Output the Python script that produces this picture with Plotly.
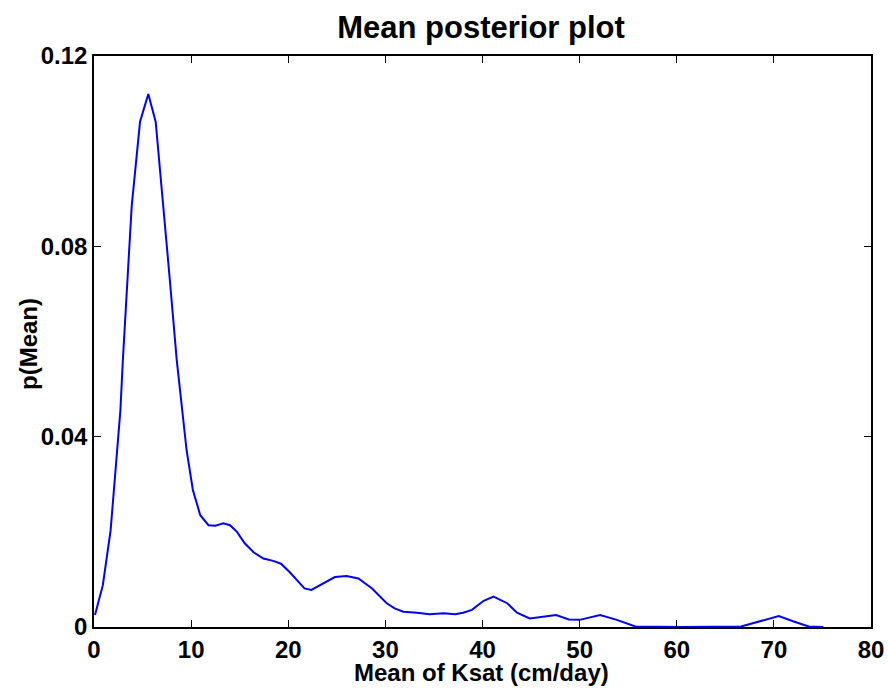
import plotly.graph_objects as go

x_vals = [0.1, 0.91, 1.71, 2.22, 2.72, 2.97, 3.88, 4.74, 5.59, 6.35, 7.06, 7.81, 8.52, 8.87, 9.53,
          10.18, 10.94, 11.79, 12.5, 13.31, 14.01, 14.72, 15.52, 16.43, 17.44, 18.45, 19.25, 20.16,
          21.67, 22.38, 23.59, 24.8, 26.01, 27.22, 28.63, 30.14, 30.95, 31.85, 33.26, 34.57, 35.99,
          37.2, 38.0, 38.91, 40.12, 41.13, 42.54, 43.55, 44.86, 46.57, 47.58, 48.89, 50.0, 52.11,
          53.83, 55.74, 60.5, 66.63, 68.54, 70.5, 71.97, 73.58, 75.1]
y_vals = [0.0025, 0.0088, 0.0203, 0.034, 0.0456, 0.0561, 0.0884, 0.1062, 0.112, 0.1062, 0.0904,
          0.0729, 0.0561, 0.0492, 0.0372, 0.0288, 0.0235, 0.0214, 0.0213, 0.0218, 0.0214, 0.0200,
          0.0176, 0.0157, 0.0144, 0.0139, 0.0133, 0.0115, 0.0081, 0.0078, 0.0092, 0.0105, 0.0107,
          0.0102, 0.0081, 0.0050, 0.0039, 0.0032, 0.0030, 0.0027, 0.0029, 0.0027, 0.0030, 0.0036,
          0.0055, 0.0064, 0.0050, 0.0030, 0.0018, 0.0023, 0.0025, 0.0016, 0.0015, 0.0025, 0.0015,
          0.0001, 0.0, 0.0001, 0.0012, 0.0023, 0.0012, 0.0001, 0.0]

x_ticks = [0, 10, 20, 30, 40, 50, 60, 70, 80]
y_ticks = [0, 0.04, 0.08, 0.12]
y_tick_text = ["0", "0.04", "0.08", "0.12"]

title_text = "Mean posterior plot"
x_label = "Mean of Ksat (cm/day)"
y_label = "p(Mean)"

font_family = "Liberation Sans, Arial, Helvetica, sans-serif"
W, H = 888, 691
L, R, T, B = 94, 17, 56, 64
pw, ph = W - L - R, H - T - B

fig = go.Figure()
fig.add_trace(go.Scatter(x=x_vals, y=y_vals, mode="lines",
                         line=dict(color="#0000FF", width=2), showlegend=False))

fig.update_layout(
    width=W, height=H,
    margin=dict(l=L, r=R, t=T, b=B, autoexpand=False),
    paper_bgcolor="white", plot_bgcolor="white",
    font=dict(family=font_family, color="black", size=24),
    title=dict(text=f"<b>{title_text}</b>", x=(481 - L) / pw, xref="paper", xanchor="center",
               y=1 - 27 / H, yref="container", yanchor="middle",
               font=dict(size=31, family=font_family)),
    annotations=[
        dict(text=f"<b>{x_label}</b>", xref="paper", yref="paper",
             x=(481 - L) / pw, y=-(672 - (H - B)) / ph, xanchor="center", yanchor="middle",
             showarrow=False, font=dict(size=24, family=font_family)),
        dict(text=f"<b>{y_label}</b>", xref="paper", yref="paper",
             x=(28 - L) / pw, y=1 - (344 - T) / ph, xanchor="center", yanchor="middle",
             textangle=-90, showarrow=False, font=dict(size=24, family=font_family)),
    ],
)
fig.update_xaxes(range=[0, 80], tickvals=x_ticks, ticktext=[f"<b>{v}</b>" for v in x_ticks],
                 showline=True, linecolor="black", linewidth=1.5, mirror="ticks",
                 ticks="inside", ticklen=7, tickcolor="black", showgrid=False, zeroline=False,
                 tickfont=dict(size=24), automargin=False, ticklabeloverflow="allow")
fig.update_yaxes(range=[0, 0.12], tickvals=y_ticks, ticktext=[f"<b>{t}</b>" for t in y_tick_text],
                 showline=True, linecolor="black", linewidth=1.5, mirror="ticks",
                 ticks="inside", ticklen=7, tickcolor="black", showgrid=False, zeroline=False,
                 tickfont=dict(size=24), automargin=False, ticklabeloverflow="allow")

fig.write_html("out.html")
